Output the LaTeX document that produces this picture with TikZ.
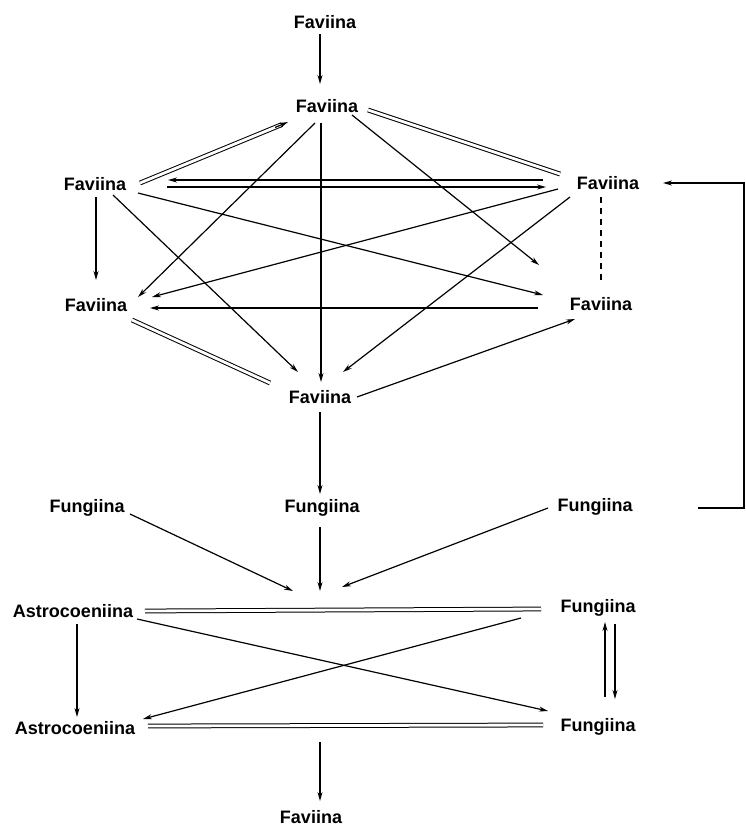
\documentclass[tikz,border=0pt]{standalone}
\usepackage{fontspec}
\setmainfont{Liberation Sans}
\usetikzlibrary{arrows.meta,calc}
\begin{document}
\begin{tikzpicture}[x=1pt,y=-1pt,
  lbl/.style={inner sep=0pt,font=\fontsize{18}{20}\selectfont\bfseries},
  ln/.style={line width=1.2pt},
  arr/.style={ln,-{Stealth[length=9pt,width=5pt]}},
  dbl/.style={line width=1pt,double,double distance=2.8pt},
  dsh/.style={line width=1.3pt,dash pattern=on 6pt off 5pt}]
\useasboundingbox[fill=white] (0,0) rectangle (746,827);
% labels
\node[lbl] (t0)  at (325,22)  {Faviina};
\node[lbl] (f1)  at (327,106) {Faviina};
\node[lbl] (fl)  at (95,184)  {Faviina};
\node[lbl] (fr)  at (608,183) {Faviina};
\node[lbl] (fl2) at (96,305)  {Faviina};
\node[lbl] (fr2) at (601,304) {Faviina};
\node[lbl] (fc)  at (320,397) {Faviina};
\node[lbl] (gl)  at (87,508)  {Fungiina};
\node[lbl] (gc)  at (322,508) {Fungiina};
\node[lbl] (gr)  at (595,507) {Fungiina};
\node[lbl] (a1)  at (73,611)  {Astrocoeniina};
\node[lbl] (gr1) at (598,608) {Fungiina};
\node[lbl] (a2)  at (75,728)  {Astrocoeniina};
\node[lbl] (gr2) at (598,727) {Fungiina};
\node[lbl] (b0)  at (311,817) {Faviina};
\coordinate (conv) at (320,600);
\coordinate (mid2) at (320,727);
\coordinate (brA) at (744,508);
\coordinate (brB) at (744,183);
% top part
\draw[arr] ($(t0)+(-5,12)$) -- ($(f1)+(-7,-22)$);
\draw[dbl] ($(fl)+(45,-1)$) -- ($(f1)+(-45,18.5)$);
\draw[arr] ($(f1)+(-52,21.5)$) -- ($(f1)+(-39,16)$);
\draw[dbl] ($(f1)+(41,4)$) -- ($(fr)+(-48,-9)$);
\draw[arr] ($(fr)+(-65,-3)$) -- ($(fl)+(73,-4)$);
\draw[arr] ($(fl)+(72,3)$) -- ($(fr)+(-62,4)$);
\draw[arr] ($(f1)+(-12,17)$) -- ($(fl2)+(42,-8)$);
\draw[arr] ($(f1)+(-6,17)$) -- ($(fc)+(1,-15)$);
\draw[arr] ($(f1)+(25,9)$) -- ($(fr2)+(-62,-39)$);
\draw[arr] ($(fl)+(1,13)$) -- ($(fl2)+(0,-25)$);
\draw[arr] ($(fl)+(18,11)$) -- ($(fc)+(-22,-25)$);
\draw[arr] ($(fl)+(43,9)$) -- ($(fr2)+(-58,-9)$);
\draw[arr] ($(fr)+(-50,6)$) -- ($(fl2)+(56,-8)$);
\draw[arr] ($(fr)+(-38,14)$) -- ($(fc)+(23,-25)$);
\draw[dsh] ($(fr)+(-7,14)$) -- ($(fr2)+(0,-24)$);
\draw[arr] ($(fr2)+(-63,4)$) -- ($(fl2)+(54,3)$);
\draw[dbl] ($(fl2)+(36,15)$) -- ($(fc)+(-50,-14)$);
\draw[arr] ($(fc)+(37,0)$) -- ($(fr2)+(-26,15)$);
\draw[arr] ($(fc)+(0,15)$) -- ($(gc)+(-2,-14)$);
% converging arrows
\draw[arr] ($(gl)+(43,6)$) -- ($(conv)+(-27,-9)$);
\draw[arr] ($(gc)+(-2,19)$) -- ($(conv)+(0,-9)$);
\draw[arr] ($(gr)+(-47,1)$) -- ($(conv)+(22,-13)$);
% bottom part
\draw[dbl] ($(a1)+(72,0)$) -- ($(gr1)+(-57,1)$);
\draw[arr] ($(a1)+(64,8)$) -- ($(gr2)+(-50,-16)$);
\draw[arr] ($(gr1)+(-77,10)$) -- ($(a2)+(68,-9)$);
\draw[arr] ($(a1)+(4,13)$) -- ($(a2)+(2,-11)$);
\draw[arr] ($(gr2)+(7,-30)$) -- ($(gr1)+(7,14)$);
\draw[arr] ($(gr1)+(17,16)$) -- ($(gr2)+(17,-28)$);
\draw[dbl] ($(a2)+(73,-2)$) -- ($(gr2)+(-55,-2)$);
\draw[arr] ($(mid2)+(0,15)$) -- ($(b0)+(9,-16)$);
% bracket
\draw[arr] ($(gr)+(103,1)$) -- (brA) -- (brB) -- ($(fr)+(55,0)$);
\end{tikzpicture}
\end{document}
